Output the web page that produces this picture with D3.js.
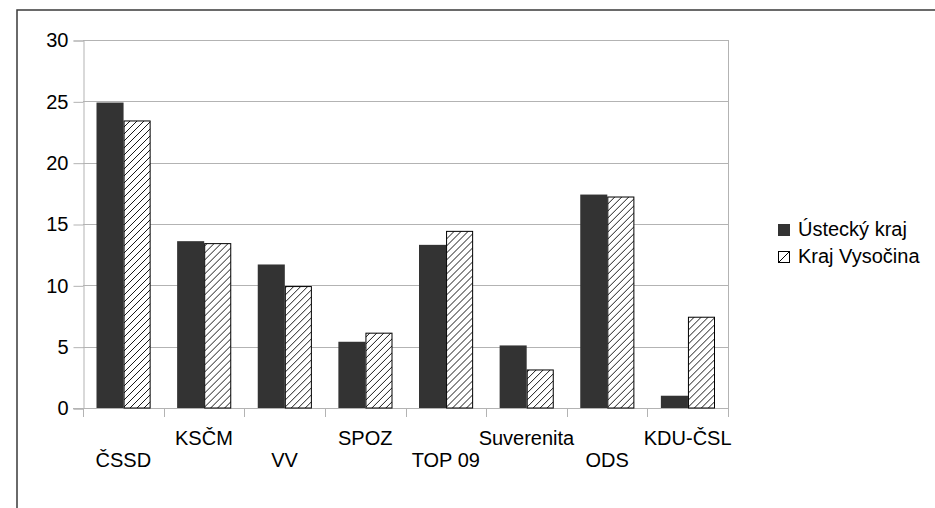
<!DOCTYPE html>
<html>
<head>
<meta charset="utf-8">
<script src="https://cdn.jsdelivr.net/npm/d3@7/dist/d3.min.js"></script>
<style>
  html, body { margin: 0; padding: 0; background: #fff; }
  svg text { font-family: "Liberation Sans", Arial, sans-serif; fill: #000; }
</style>
</head>
<body>
<svg id="chart" width="935" height="508"></svg>
<script>
const categories = ["ČSSD", "KSČM", "VV", "SPOZ", "TOP 09", "Suverenita", "ODS", "KDU-ČSL"];
const seriesNames = ["Ústecký kraj", "Kraj Vysočina"];
const usteckyValues = [24.9, 13.6, 11.7, 5.4, 13.3, 5.1, 17.4, 1.0];
const vysocinaValues = [23.4, 13.4, 9.9, 6.1, 14.4, 3.1, 17.2, 7.4];
const yTicks = [0, 5, 10, 15, 20, 25, 30];

const svg = d3.select("#chart");
const W = 935, H = 508;
const plot = { left: 83, right: 728, top: 40, bottom: 408 };
const FONT = 20;

// outer frame
svg.append("rect").attr("x", 17).attr("y", 10).attr("width", W + 20).attr("height", H + 20)
  .attr("fill", "none").attr("stroke", "#3a3a3a").attr("stroke-width", 1.5);

// hatch pattern
const defs = svg.append("defs");
const s = 7;
const pat = defs.append("pattern").attr("id", "hatch").attr("patternUnits", "userSpaceOnUse")
  .attr("width", s).attr("height", s);
pat.append("rect").attr("width", s).attr("height", s).attr("fill", "#fff");
pat.append("path").attr("d", `M0,${s} L${s},0 M${-s/2},${s/2} L${s/2},${-s/2} M${s/2},${s*1.5} L${s*1.5},${s/2}`)
  .attr("stroke", "#000").attr("stroke-width", 0.9);

const x0 = d3.scaleBand().domain(categories).range([plot.left, plot.right]).padding(0);
const x1 = d3.scaleBand().domain(seriesNames).range([13.5, x0.bandwidth() - 13]).padding(0);
const y = d3.scaleLinear().domain([0, 30]).range([plot.bottom, plot.top]);

// gridlines
svg.append("g").selectAll("line").data(yTicks).join("line")
  .attr("x1", plot.left).attr("x2", plot.right)
  .attr("y1", d => Math.round(y(d)) + 0.5).attr("y2", d => Math.round(y(d)) + 0.5)
  .attr("stroke", "#b3b3b3").attr("stroke-width", 1);
// right border
svg.append("line").attr("x1", plot.right + 0.5).attr("x2", plot.right + 0.5)
  .attr("y1", plot.top).attr("y2", plot.bottom).attr("stroke", "#b3b3b3");

// y axis
const yAxis = d3.axisLeft(y).tickValues(yTicks).tickSize(10).tickPadding(5).tickFormat(d3.format("d"));
const gy = svg.append("g").attr("transform", `translate(${plot.left + 0.5},0.5)`).call(yAxis);
gy.selectAll("path,line").attr("stroke", "#b3b3b3");
gy.selectAll("text").attr("font-size", FONT).attr("font-family", "Liberation Sans, Arial, sans-serif").attr("fill", "#000");

// x axis
const boundaries = categories.map(c => x0(c)).concat([plot.right]);
const gx = svg.append("g");
gx.append("line").attr("x1", plot.left - 10).attr("x2", plot.right)
  .attr("y1", plot.bottom + 0.5).attr("y2", plot.bottom + 0.5).attr("stroke", "#b3b3b3");
gx.selectAll("line.tk").data(boundaries).join("line").attr("class", "tk")
  .attr("x1", d => Math.round(d) + 0.5).attr("x2", d => Math.round(d) + 0.5)
  .attr("y1", plot.bottom).attr("y2", plot.bottom + 9).attr("stroke", "#b3b3b3");
gx.selectAll("text").data(categories).join("text")
  .attr("x", d => x0(d) + x0.bandwidth() / 2)
  .attr("y", (d, i) => i % 2 === 0 ? 467 : 445)
  .attr("text-anchor", "middle").attr("font-size", FONT).text(d => d);

// bars
const data = categories.map((c, i) => ({ c, vals: [usteckyValues[i], vysocinaValues[i]] }));
const groups = svg.append("g").selectAll("g").data(data).join("g")
  .attr("transform", d => `translate(${x0(d.c)},0)`);
groups.selectAll("rect").data(d => d.vals.map((v, k) => ({ v, k }))).join("rect")
  .attr("x", d => x1(seriesNames[d.k]) + (d.k === 1 ? 0.5 : 0))
  .attr("width", d => x1.bandwidth() - (d.k === 1 ? 1 : 0))
  .attr("y", d => y(d.v))
  .attr("height", d => plot.bottom - y(d.v))
  .attr("fill", d => d.k === 0 ? "#333333" : "url(#hatch)")
  .attr("stroke", d => d.k === 0 ? "none" : "#000")
  .attr("stroke-width", 1);

// legend
const legend = svg.append("g");
const legY = [236, 263];
seriesNames.forEach((name, k) => {
  const g = legend.append("g");
  if (k === 0) {
    g.append("rect").attr("x", 778).attr("y", legY[k] - 12).attr("width", 12).attr("height", 12).attr("fill", "#333333");
  } else {
    g.append("rect").attr("x", 778.5).attr("y", legY[k] - 11.5).attr("width", 11).attr("height", 11)
      .attr("fill", "#fff").attr("stroke", "#000");
    g.append("line").attr("x1", 778.5).attr("y1", legY[k] - 0.5).attr("x2", 789.5).attr("y2", legY[k] - 11.5)
      .attr("stroke", "#000");
  }
  g.append("text").attr("x", 798).attr("y", legY[k]).attr("font-size", FONT).text(name);
});
</script>
</body>
</html>
